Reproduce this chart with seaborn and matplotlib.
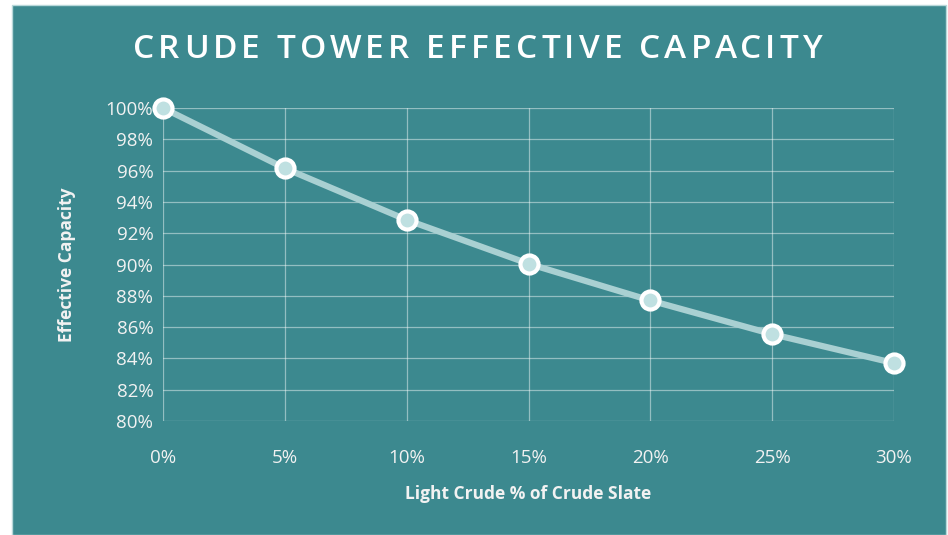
import matplotlib.pyplot as plt
import seaborn as sns
import pandas as pd
from matplotlib.patches import Rectangle
from matplotlib.ticker import PercentFormatter

# Data
light_crude_pct = [0, 5, 10, 15, 20, 25, 30]
effective_capacity = [100.0, 96.15, 92.85, 90.05, 87.7, 85.55, 83.7]
title_text = 'CRUDE TOWER EFFECTIVE CAPACITY'

df = pd.DataFrame({'light': light_crude_pct, 'capacity': effective_capacity})

teal = '#3C898F'
sns.set_theme(style='white')
plt.rcParams['font.family'] = ['Open Sans', 'DejaVu Sans']

fig = plt.figure(figsize=(9.48, 5.35), dpi=100)
fig.patch.set_facecolor('white')
fig.add_artist(Rectangle((12 / 948, 0), 934 / 948, 530 / 535, transform=fig.transFigure,
                         facecolor=teal, edgecolor='#B8D8DA', linewidth=1, zorder=0))

ax = fig.add_axes([163 / 948, 114 / 535, 731 / 948, 313 / 535])
ax.set_facecolor(teal)

sns.lineplot(data=df, x='light', y='capacity', ax=ax, color='#A9D0D2', linewidth=4.5,
             marker='o', markersize=13, markerfacecolor='#BFE0E1', markeredgecolor='white',
             markeredgewidth=3, zorder=3, clip_on=False)

ax.set_xlim(0, 30)
ax.set_ylim(80, 100)
ax.set_xticks(range(0, 31, 5))
ax.set_yticks(range(80, 101, 2))
ax.xaxis.set_major_formatter(PercentFormatter(decimals=0))
ax.yaxis.set_major_formatter(PercentFormatter(decimals=0))
ax.grid(True, color='white', alpha=0.45, linewidth=0.9)
for s in ax.spines.values():
    s.set_visible(False)
ax.tick_params(colors='#F2F2F2', labelsize=13.5, length=0, pad=7)
ax.tick_params(axis='x', pad=20)
for lbl in ax.get_xticklabels() + ax.get_yticklabels():
    lbl.set_color('#F2F2F2')

ax.set_xlabel('Light Crude % of Crude Slate', color='#F2F2F2', fontsize=12.5, fontweight='bold', labelpad=13)
ax.set_ylabel('Effective Capacity', color='#F2F2F2', fontsize=12.5, fontweight='bold', labelpad=21)

# Title with letter spacing: place characters one by one
title_kw = dict(color='white', fontsize=24, fontweight='semibold', va='center', ha='left')
renderer = fig.canvas.get_renderer()


def text_width(s):
    if not s:
        return 0.0
    t = fig.text(0, 0, s.replace(' ', '\u00a0'), **title_kw)
    w = t.get_window_extent(renderer).width
    t.remove()
    return w


target_left, target_right = 133, 822
natural = text_width(title_text)
tracking = (target_right - target_left - natural) / (len(title_text) - 1)
y_title = 1 - 50 / 535
for i, ch in enumerate(title_text):
    if ch == ' ':
        continue
    x = target_left + text_width(title_text[:i]) + i * tracking
    fig.text(x / 948, y_title, ch, **title_kw)

fig.savefig('out.png', dpi=100, facecolor=fig.get_facecolor())
